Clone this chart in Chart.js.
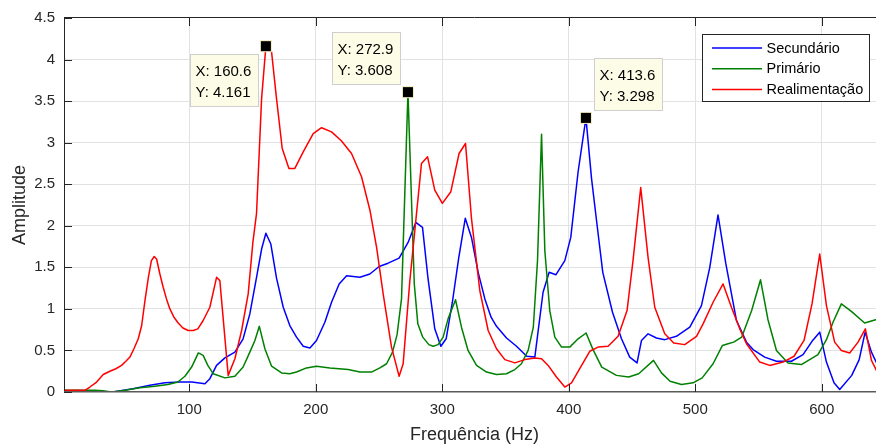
<!DOCTYPE html>
<html>
<head>
<meta charset="utf-8">
<title>Amplitude x Frequência</title>
<script src="https://cdn.jsdelivr.net/npm/chart.js@4.4.1/dist/chart.umd.min.js"></script>
<style>
  html, body { margin: 0; padding: 0; background: #ffffff; overflow: hidden; }
  #wrap { width: 876px; height: 446px; overflow: hidden; }
  canvas { display: block; }
</style>
</head>
<body>
<div id="wrap"><canvas id="chart" width="885" height="446"></canvas></div>
<script>
// Frequência (Hz) e amplitude de cada curva
const secundarioFreq = [1.0, 29.4, 39.7, 55.5, 68.9, 80.8, 92.6, 102.1, 112.4, 116.3, 121.6, 128.2, 136.1, 142.6, 147.9, 153.2, 157.2, 160.6, 164.5, 169.0, 174.3, 179.5, 184.8, 190.1, 195.4, 200.6, 207.2, 212.5, 218.5, 224.4, 234.9, 242.8, 250.1, 257.2, 265.9, 273.0, 279.1, 284.4, 288.8, 294.1, 298.9, 303.1, 308.0, 313.0, 318.2, 323.1, 328.4, 333.7, 338.6, 342.9, 350.8, 358.7, 366.8, 373.2, 379.7, 384.5, 389.8, 396.9, 401.6, 407.4, 413.6, 418.0, 422.7, 426.9, 434.6, 441.7, 448.2, 454.0, 457.5, 462.7, 469.3, 475.9, 485.1, 495.7, 504.9, 511.5, 518.0, 524.1, 532.6, 540.5, 545.7, 554.9, 564.2, 576.0, 585.2, 592.3, 598.4, 603.7, 609.7, 614.2, 623.7, 629.6, 634.3, 639.3, 647.4];
const secundarioAmp = [0.01, 0.0, 0.0, 0.04, 0.08, 0.11, 0.12, 0.12, 0.10, 0.16, 0.32, 0.41, 0.48, 0.64, 0.94, 1.38, 1.72, 1.91, 1.78, 1.37, 1.02, 0.80, 0.66, 0.55, 0.53, 0.62, 0.84, 1.08, 1.30, 1.40, 1.38, 1.42, 1.51, 1.55, 1.61, 1.80, 2.04, 1.98, 1.36, 0.76, 0.55, 0.64, 1.08, 1.61, 2.09, 1.86, 1.44, 1.12, 0.90, 0.79, 0.65, 0.55, 0.43, 0.42, 1.20, 1.44, 1.41, 1.58, 1.86, 2.65, 3.298, 2.57, 1.97, 1.44, 0.96, 0.64, 0.42, 0.35, 0.62, 0.70, 0.65, 0.63, 0.67, 0.78, 1.04, 1.50, 2.13, 1.55, 0.86, 0.60, 0.51, 0.42, 0.37, 0.37, 0.45, 0.61, 0.72, 0.36, 0.11, 0.03, 0.20, 0.39, 0.72, 0.48, 0.22];

const primarioFreq = [1.0, 13.6, 25.4, 31.8, 38.6, 49.2, 61.0, 72.9, 83.1, 91.0, 96.6, 101.9, 107.2, 111.0, 114.7, 118.9, 128.2, 136.1, 142.6, 147.9, 151.9, 155.4, 159.8, 165.1, 173.0, 179.5, 184.8, 192.7, 200.6, 211.2, 225.6, 234.9, 244.1, 250.7, 256.0, 260.7, 264.3, 267.8, 272.9, 277.9, 280.7, 284.6, 289.4, 292.8, 296.7, 300.7, 304.6, 310.5, 315.2, 320.4, 327.1, 335.0, 342.9, 350.8, 357.4, 362.6, 367.9, 372.0, 375.3, 378.5, 381.1, 385.0, 389.0, 394.3, 400.8, 407.4, 413.7, 419.2, 426.1, 437.7, 447.4, 455.3, 467.0, 473.3, 480.1, 489.1, 498.3, 505.5, 514.1, 521.5, 525.9, 530.4, 536.7, 544.6, 551.6, 557.5, 564.2, 573.3, 583.9, 597.0, 603.7, 608.9, 615.5, 623.4, 633.9, 642.6, 647.4];
const primarioAmp = [0.02, 0.02, 0.02, 0.015, 0.0, 0.02, 0.05, 0.07, 0.09, 0.12, 0.19, 0.30, 0.47, 0.44, 0.32, 0.22, 0.17, 0.19, 0.30, 0.48, 0.62, 0.79, 0.52, 0.31, 0.23, 0.22, 0.24, 0.29, 0.31, 0.29, 0.27, 0.24, 0.24, 0.29, 0.34, 0.48, 0.69, 1.12, 3.608, 1.30, 0.82, 0.66, 0.57, 0.55, 0.57, 0.66, 0.88, 1.11, 0.78, 0.50, 0.32, 0.24, 0.21, 0.22, 0.27, 0.34, 0.50, 0.78, 1.58, 3.10, 1.70, 0.98, 0.66, 0.54, 0.54, 0.64, 0.71, 0.51, 0.30, 0.20, 0.18, 0.22, 0.38, 0.23, 0.13, 0.09, 0.11, 0.17, 0.34, 0.56, 0.58, 0.60, 0.66, 0.98, 1.35, 0.87, 0.50, 0.35, 0.33, 0.45, 0.63, 0.84, 1.06, 0.97, 0.83, 0.87, 0.89];

const realimentacaoFreq = [1.0, 17.5, 21.5, 26.8, 32.0, 37.3, 42.0, 46.5, 49.9, 53.1, 56.3, 59.7, 62.4, 65.0, 67.7, 70.1, 72.3, 74.2, 76.8, 79.4, 82.0, 84.7, 87.9, 91.3, 95.0, 99.2, 103.1, 106.8, 111.0, 116.3, 121.6, 124.2, 130.8, 136.1, 141.4, 146.6, 150.3, 153.2, 157.2, 160.6, 165.1, 169.0, 173.5, 178.8, 183.5, 190.1, 198.0, 204.6, 212.5, 220.4, 228.3, 236.2, 242.8, 248.1, 253.3, 259.9, 265.9, 269.1, 274.4, 283.6, 288.4, 294.1, 300.1, 306.8, 313.3, 318.4, 323.1, 329.7, 336.3, 342.9, 349.5, 357.4, 365.3, 373.2, 378.5, 383.7, 390.3, 396.9, 402.2, 408.7, 416.6, 423.2, 431.1, 439.0, 446.1, 450.8, 456.9, 462.7, 468.0, 475.9, 483.0, 491.7, 501.0, 506.2, 514.1, 522.0, 528.6, 535.2, 540.5, 551.0, 558.9, 569.4, 578.1, 586.0, 592.3, 598.4, 603.7, 610.2, 615.5, 622.1, 628.7, 634.5, 639.3, 645.8];
const realimentacaoAmp = [0.02, 0.02, 0.06, 0.12, 0.21, 0.25, 0.28, 0.32, 0.37, 0.42, 0.52, 0.64, 0.80, 1.10, 1.38, 1.58, 1.63, 1.60, 1.42, 1.26, 1.12, 1.00, 0.90, 0.83, 0.77, 0.74, 0.74, 0.76, 0.86, 1.02, 1.38, 1.34, 0.20, 0.40, 0.74, 1.18, 1.80, 2.15, 3.53, 4.161, 4.09, 3.53, 2.93, 2.69, 2.69, 2.89, 3.11, 3.18, 3.13, 3.02, 2.87, 2.59, 2.19, 1.74, 1.18, 0.54, 0.19, 0.34, 1.34, 2.75, 2.83, 2.43, 2.27, 2.41, 2.87, 2.99, 2.09, 1.22, 0.74, 0.52, 0.39, 0.35, 0.39, 0.41, 0.40, 0.32, 0.18, 0.06, 0.11, 0.28, 0.49, 0.54, 0.55, 0.67, 0.98, 1.58, 2.46, 1.62, 1.02, 0.70, 0.59, 0.57, 0.67, 0.82, 1.08, 1.30, 1.02, 0.76, 0.58, 0.36, 0.32, 0.36, 0.43, 0.62, 1.06, 1.66, 1.04, 0.60, 0.50, 0.47, 0.60, 0.76, 0.38, 0.18];

// Marcadores de leitura (data tips)
const tipX = [160.6, 272.9, 413.6];
const tipY = [4.161, 3.608, 3.298];

// Rótulos dos eixos
const xTicks = [100, 200, 300, 400, 500, 600];
const yTicks = [0, 0.5, 1, 1.5, 2, 2.5, 3, 3.5, 4, 4.5];

const seriesNames = ['Secundário', 'Primário', 'Realimentação'];
const seriesColors = ['#0000ff', '#008000', '#ff0000'];

const FONT = '"Liberation Sans", Arial, Helvetica, sans-serif';
const AXIS_COLOR = '#262626';
const GRID_COLOR = '#e2e2e2';

function toPoints(freq, amp) {
  return freq.map((f, i) => ({ x: f, y: amp[i] }));
}

// Moldura do gráfico com marcas de escala voltadas para dentro
const axesFrame = {
  id: 'axesFrame',
  afterDatasetsDraw(chart) {
    const { ctx, chartArea: a, scales: { x, y } } = chart;
    ctx.save();
    ctx.strokeStyle = AXIS_COLOR;
    ctx.lineWidth = 1;
    ctx.beginPath();
    ctx.moveTo(a.left + 0.5, a.top - 0.5);
    ctx.lineTo(a.left + 0.5, a.bottom);
    ctx.moveTo(a.left, a.top - 0.5);
    ctx.lineTo(a.right, a.top - 0.5);
    ctx.stroke();
    ctx.strokeStyle = '#5a5a5a';
    ctx.lineWidth = 1.6;
    ctx.beginPath();
    ctx.moveTo(a.left, a.bottom - 0.3);
    ctx.lineTo(a.right, a.bottom - 0.3);
    ctx.stroke();
    ctx.strokeStyle = AXIS_COLOR;
    ctx.lineWidth = 1;
    ctx.beginPath();
    xTicks.forEach(v => {
      const px = Math.round(x.getPixelForValue(v)) + 0.5;
      ctx.moveTo(px, a.bottom);
      ctx.lineTo(px, a.bottom - 8);
      ctx.moveTo(px, a.top);
      ctx.lineTo(px, a.top + 8);
    });
    yTicks.forEach(v => {
      const py = Math.round(y.getPixelForValue(v)) + 0.5;
      ctx.moveTo(a.left, py);
      ctx.lineTo(a.left + 8, py);
    });
    ctx.stroke();
    ctx.restore();
  }
};

// Legenda no canto superior direito
const legendBox = {
  id: 'legendBox',
  afterDraw(chart) {
    const { ctx, chartArea: a } = chart;
    const x0 = a.right - 182.5, y0 = a.top + 16.5, w = 167, h = 67;
    ctx.save();
    ctx.fillStyle = '#ffffff';
    ctx.fillRect(x0, y0, w, h);
    ctx.strokeStyle = AXIS_COLOR;
    ctx.lineWidth = 1;
    ctx.strokeRect(x0, y0, w, h);
    ctx.font = '14.5px ' + FONT;
    ctx.textBaseline = 'middle';
    ctx.textAlign = 'left';
    chart.data.datasets.forEach((ds, i) => {
      const yy = y0 + 13.5 + i * 20.7;
      ctx.strokeStyle = ds.borderColor;
      ctx.lineWidth = 1.5;
      ctx.beginPath();
      ctx.moveTo(x0 + 9.5, yy);
      ctx.lineTo(x0 + 59.5, yy);
      ctx.stroke();
      ctx.fillStyle = '#000000';
      ctx.fillText(ds.label, x0 + 64, yy + 0.5);
    });
    ctx.restore();
  }
};

// Caixas de leitura X/Y com marcador quadrado
const dataTips = {
  id: 'dataTips',
  afterDraw(chart) {
    const { ctx, scales: { x, y } } = chart;
    const side = [[-1, 1], [-1, -1], [1, -1]];
    ctx.save();
    ctx.font = '15px ' + FONT;
    tipX.forEach((fx, i) => {
      const px = x.getPixelForValue(fx);
      const py = y.getPixelForValue(tipY[i]);
      const lines = ['X: ' + fx.toFixed(1), 'Y: ' + tipY[i].toFixed(3)];
      const tw = Math.max(...lines.map(t => ctx.measureText(t).width));
      const bw = Math.round(tw + 12), bh = 52;
      const bx = Math.round(side[i][0] < 0 ? px - 8 - bw : px + 8) + 0.5;
      const by = Math.round(side[i][1] > 0 ? py + 8 : py - 8 - bh) + 0.5;
      ctx.fillStyle = '#fdfde7';
      ctx.fillRect(bx, by, bw, bh);
      ctx.strokeStyle = '#cfcfcf';
      ctx.lineWidth = 1;
      ctx.strokeRect(bx, by, bw, bh);
      ctx.fillStyle = '#000000';
      ctx.textBaseline = 'middle';
      ctx.textAlign = 'left';
      ctx.fillText(lines[0], bx + 5, by + 17.5);
      ctx.fillText(lines[1], bx + 5, by + 38);
      // marcador
      ctx.fillStyle = '#f1ecbf';
      ctx.fillRect(px - 6, py - 6, 12, 12);
      ctx.fillStyle = '#000000';
      ctx.fillRect(px - 5, py - 5, 10, 10);
    });
    ctx.restore();
  }
};

Chart.defaults.font.family = FONT;

new Chart(document.getElementById('chart'), {
  type: 'line',
  data: {
    datasets: [
      { label: seriesNames[0], data: toPoints(secundarioFreq, secundarioAmp), borderColor: seriesColors[0], order: 3 },
      { label: seriesNames[1], data: toPoints(primarioFreq, primarioAmp), borderColor: seriesColors[1], order: 2 },
      { label: seriesNames[2], data: toPoints(realimentacaoFreq, realimentacaoAmp), borderColor: seriesColors[2], order: 1 }
    ]
  },
  options: {
    responsive: false,
    devicePixelRatio: 1,
    animation: false,
    events: [],
    elements: {
      line: { borderWidth: 1.5, tension: 0, fill: false, borderCapStyle: 'round', borderJoinStyle: 'round' },
      point: { radius: 0, hoverRadius: 0 }
    },
    layout: { padding: { top: 16, right: 0, bottom: 0, left: 0 } },
    plugins: { legend: { display: false }, tooltip: { enabled: false } },
    scales: {
      x: {
        type: 'linear',
        min: 1,
        max: 650,
        afterBuildTicks: s => { s.ticks = xTicks.map(v => ({ value: v })); },
        afterFit: s => { s.height = 54; },
        border: { display: false },
        grid: { color: GRID_COLOR, lineWidth: 1, drawTicks: false },
        ticks: { padding: 9, color: AXIS_COLOR, font: { size: 15 }, autoSkip: false, maxRotation: 0, callback: v => String(v) },
        title: { display: true, text: 'Frequência (Hz)', color: AXIS_COLOR, font: { size: 18 }, padding: { top: 0, bottom: 0 } }
      },
      y: {
        min: 0,
        max: 4.5,
        afterBuildTicks: s => { s.ticks = yTicks.map(v => ({ value: v })); },
        afterFit: s => { s.width = 64; },
        border: { display: false },
        grid: {
          color: c => (c.tick && (c.tick.value === 0 || c.tick.value === 4.5)) ? 'rgba(0,0,0,0)' : GRID_COLOR,
          lineWidth: 1,
          drawTicks: false
        },
        ticks: { padding: 9, color: AXIS_COLOR, font: { size: 15 }, callback: v => String(v) },
        title: { display: true, text: 'Amplitude', color: AXIS_COLOR, font: { size: 18 }, padding: { top: 9, bottom: 0 } }
      }
    }
  },
  plugins: [axesFrame, legendBox, dataTips]
});
</script>
</body>
</html>
